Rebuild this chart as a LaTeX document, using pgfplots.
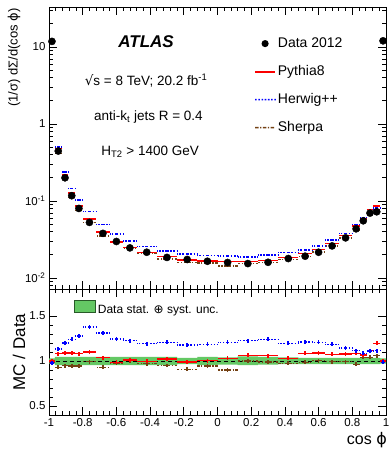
\documentclass[border=0pt]{standalone}
\usepackage{fontspec}
\setmainfont{Liberation Sans}
\newfontfamily\djv{DejaVu Sans}
\usepackage{pgfplots}
\usepackage{pgfplotstable}
\pgfplotsset{compat=1.18}
\usepgfplotslibrary{fillbetween}

\definecolor{bandgreen}{RGB}{100,200,100}
\definecolor{bandedge}{RGB}{40,90,40}
\definecolor{shbrown}{RGB}{115,65,20}
\definecolor{hwblue}{RGB}{0,0,255}
\definecolor{pyred}{RGB}{255,0,0}
\definecolor{legred}{RGB}{250,0,0}

\tikzset{
  pystyle/.style={draw=pyred, line width=1.5pt, solid},
  hwstyle/.style={draw=hwblue, line width=1.6pt, dash pattern=on 1.6pt off 1.6pt},
  shstyle/.style={draw=shbrown, line width=1.5pt, dash pattern=on 3.5pt off 1.5pt on 1.2pt off 1.5pt},
  legfill/.style={fill=#1, draw=none, draw opacity=0},
}

\pgfplotstableread{
x w d p h s
-0.9825 0.0175 11.8 11.8 11.56 11.68
-0.945 0.02 0.445 0.481 0.504 0.414
-0.905 0.02 0.200 0.218 0.239 0.1896
-0.865 0.02 0.117 0.1274 0.145 0.1106
-0.8225 0.0225 0.080 0.0865 0.1025 0.0756
-0.76 0.04 0.0527 0.058 0.0726 0.0523
-0.68 0.04 0.0380 0.0394 0.0497 0.0353
-0.60 0.04 0.0298 0.0294 0.0371 0.0292
-0.52 0.04 0.0246 0.0249 0.0302 0.0247
-0.42 0.06 0.0216 0.0215 0.0258 0.0210
-0.30 0.06 0.0185 0.0189 0.0223 0.0176
-0.18 0.06 0.0174 0.0172 0.0205 0.0158
-0.06 0.06 0.0165 0.0166 0.0196 0.0156
0.06 0.06 0.0159 0.0164 0.0192 0.0143
0.18 0.06 0.0154 0.0164 0.0189 0.0154
0.30 0.06 0.0160 0.0170 0.0198 0.0158
0.42 0.06 0.0179 0.0184 0.0214 0.0174
0.52 0.04 0.0192 0.0208 0.0233 0.0189
0.60 0.04 0.0216 0.0235 0.0261 0.0217
0.68 0.04 0.0261 0.0280 0.0309 0.0259
0.76 0.04 0.0332 0.0358 0.0380 0.0330
0.8225 0.0225 0.0435 0.0472 0.0485 0.0419
0.865 0.02 0.0553 0.0590 0.0600 0.0575
0.905 0.02 0.0696 0.0776 0.0773 0.0724
0.945 0.02 0.0724 0.0866 0.0807 0.0767
0.9825 0.0175 12.0 12.0 11.82 12.0
}\up

\pgfplotstableread{
x w p h s
-0.9825 0.0175 1.00 0.98 0.99
-0.945 0.02 1.081 1.133 0.93
-0.905 0.02 1.089 1.197 0.948
-0.865 0.02 1.089 1.241 0.945
-0.8225 0.0225 1.081 1.281 0.945
-0.76 0.04 1.10 1.378 0.993
-0.68 0.04 1.037 1.308 0.93
-0.60 0.04 0.985 1.244 0.98
-0.52 0.04 1.011 1.226 1.004
-0.42 0.06 0.996 1.193 0.97
-0.30 0.06 1.022 1.207 0.95
-0.18 0.06 0.989 1.178 0.907
-0.06 0.06 1.004 1.185 0.944
0.06 0.06 1.03 1.207 0.90
0.18 0.06 1.063 1.226 1.00
0.30 0.06 1.06 1.24 0.99
0.42 0.06 1.03 1.196 0.974
0.52 0.04 1.085 1.211 0.985
0.60 0.04 1.089 1.207 1.004
0.68 0.04 1.074 1.185 0.993
0.76 0.04 1.078 1.144 0.993
0.8225 0.0225 1.085 1.115 0.963
0.865 0.02 1.067 1.085 1.04
0.905 0.02 1.115 1.111 1.04
0.945 0.02 1.196 1.115 1.059
0.9825 0.0175 1.0 0.985 1.0
}\ratio

\pgfplotstableread{
x u l
-1 1.03 0.97
-0.965 1.045 0.955
-0.925 1.045 0.955
-0.885 1.045 0.955
-0.845 1.045 0.955
-0.80 1.045 0.955
-0.72 1.045 0.955
-0.64 1.045 0.955
-0.56 1.045 0.955
-0.48 1.045 0.955
-0.36 1.045 0.955
-0.24 1.035 0.965
-0.12 1.045 0.955
0 1.04 0.96
0.12 1.05 0.955
0.24 1.045 0.96
0.36 1.04 0.965
0.48 1.035 0.965
0.56 1.035 0.965
0.64 1.035 0.965
0.72 1.035 0.965
0.80 1.035 0.965
0.845 1.035 0.965
0.885 1.035 0.965
0.925 1.035 0.965
0.965 1.03 0.97
1.0 1.03 0.97
}\band

\pgfplotsset{
  common/.style={scale only axis, width=337pt, xmin=-1, xmax=1,
    xtick={-1,-0.8,-0.6,-0.4,-0.2,0,0.2,0.4,0.6,0.8,1}, minor x tick num=4,
    tick align=inside, major tick length=8pt, minor tick length=4pt,
    axis line style={line width=0.8pt},
    every tick/.style={black, line width=0.7pt},
    tick label style={font=\fontsize{11.5}{13}\selectfont},
  },
  hseg/.style={draw=none, mark=none, forget plot, error bars/.cd, x dir=both, x explicit, error mark=none, error bar style={#1}},
  vseg/.style={draw=none, mark=none, forget plot, error bars/.cd, y dir=both, y fixed=0.022, error mark=none, error bar style={#1}},
}

\begin{document}
\begin{tikzpicture}
\begin{axis}[common, at={(0,0)}, anchor=south west, height=282pt,
  ymode=log, ymin=0.0072, ymax=33,
  ytick={0.01,0.1,1,10},
  yticklabels={10\textsuperscript{-2},10\textsuperscript{-1},1,10},
  minor ytick={0.008,0.009,0.02,0.03,0.04,0.05,0.06,0.07,0.08,0.09,0.2,0.3,0.4,0.5,0.6,0.7,0.8,0.9,2,3,4,5,6,7,8,9,20,30},
  xticklabels={},
  ylabel={(1/σ) dΣ/d(cos {\djv ϕ})},
  ylabel style={at={(rel axis cs:-0.104,1.007)}, anchor=east, font=\fontsize{13}{15}\selectfont},
  legend style={draw=none, fill=none, at={(rel axis cs:0.611,0.901)}, anchor=north west, inner sep=0pt,
    font=\fontsize{14}{16}\selectfont, row sep=11pt, nodes={text height=10pt, text depth=3pt, inner sep=2pt}},
  legend cell align=left,
]
\addplot[shbrown, hseg={shstyle}] table[x=x, y=s, x error=w]{\up};
\addplot[hwblue, hseg={hwstyle}] table[x=x, y=h, x error=w]{\up};
\addplot[pyred, hseg={pystyle}] table[x=x, y=p, x error=w]{\up};
\addplot[only marks, mark=*, mark size=3.6pt, black, forget plot] table[x=x, y=d]{\up};

\addlegendimage{legend image code/.code={\fill[legfill=black] (10pt,0pt) circle (3.6pt);}}
\addlegendentry{Data 2012}
\addlegendimage{legend image code/.code={\fill[legfill=legred] (0pt,-0.9pt) rectangle (20pt,0.9pt);}}
\addlegendentry{Pythia8}
\addlegendimage{legend image code/.code={\fill[legfill=hwblue] (0pt,-0.8pt) rectangle (1.6pt,0.8pt) (3.2pt,-0.8pt) rectangle (4.8pt,0.8pt) (6.4pt,-0.8pt) rectangle (8pt,0.8pt) (9.6pt,-0.8pt) rectangle (11.2pt,0.8pt) (12.8pt,-0.8pt) rectangle (14.4pt,0.8pt) (16pt,-0.8pt) rectangle (17.6pt,0.8pt) (19.2pt,-0.8pt) rectangle (20.8pt,0.8pt);}}
\addlegendentry{Herwig++}
\addlegendimage{legend image code/.code={\fill[legfill=shbrown] (0pt,-0.75pt) rectangle (3.5pt,0.75pt) (5pt,-0.75pt) rectangle (6.2pt,0.75pt) (7.7pt,-0.75pt) rectangle (11.2pt,0.75pt) (12.7pt,-0.75pt) rectangle (13.9pt,0.75pt) (15.4pt,-0.75pt) rectangle (18.9pt,0.75pt);}}
\addlegendentry{Sherpa}

\node[font=\fontsize{17}{20}\selectfont\bfseries\itshape] at (rel axis cs:0.288,0.876) {ATLAS};
\node[font=\fontsize{13.5}{16}\selectfont] at (rel axis cs:0.288,0.738) {{\djv √}s = 8 TeV; 20.2 fb\textsuperscript{-1}};
\node[font=\fontsize{13.5}{16}\selectfont] at (rel axis cs:0.295,0.61) {anti-k\textsubscript{t} jets R = 0.4};
\node[font=\fontsize{13.5}{16}\selectfont] at (rel axis cs:0.30,0.486) {H\textsubscript{T2} > 1400 GeV};
\end{axis}

\begin{axis}[common, at={(0,0)}, anchor=north west, height=126pt,
  ymin=0.4, ymax=1.8, ytick={0.5,1,1.5}, yticklabels={0.5,1,1.5}, minor y tick num=4,
  xticklabels={-1,-0.8,-0.6,-0.4,-0.2,0,0.2,0.4,0.6,0.8,1},
  ylabel={MC / Data},
  ylabel style={at={(rel axis cs:-0.089,0.5)}, anchor=center, font=\fontsize{17}{20}\selectfont},
  xlabel={cos {\djv ϕ}},
  xlabel style={at={(rel axis cs:1,0)}, anchor=north east, inner sep=0pt, yshift=-17pt, xshift=1pt, font=\fontsize{16}{19}\selectfont},
  legend style={draw=none, fill=none, at={(rel axis cs:0.074,0.913)}, anchor=north west, inner sep=0pt,
    font=\fontsize{12}{14}\selectfont, nodes={text height=9pt, text depth=2.5pt, inner sep=2pt}},
]
\addplot[name path=bu, draw=none, const plot, forget plot] table[x=x, y=u]{\band};
\addplot[name path=bl, draw=none, const plot, forget plot] table[x=x, y=l]{\band};
\addplot[bandgreen, forget plot] fill between[of=bu and bl];
\addplot[black, line width=0.8pt, dash pattern=on 4pt off 3pt, forget plot] coordinates {(-1,1) (1,1)};

\addplot[shbrown, hseg={shstyle}] table[x=x, y=s, x error=w]{\ratio};
\addplot[shbrown, vseg={draw=shbrown, line width=1.6pt, solid}] table[x=x, y=s]{\ratio};
\addplot[pyred, hseg={pystyle}] table[x=x, y=p, x error=w]{\ratio};
\addplot[pyred, vseg={draw=pyred, line width=1.6pt, solid}] table[x=x, y=p]{\ratio};
\addplot[hwblue, hseg={hwstyle}] table[x=x, y=h, x error=w]{\ratio};
\addplot[hwblue, vseg={draw=hwblue, line width=1.6pt, solid}] table[x=x, y=h]{\ratio};

\addlegendimage{legend image code/.code={\draw[fill=bandgreen, draw=bandedge, line width=0.7pt] (0pt,-2pt) rectangle (21pt,10pt);}}
\addlegendentry{Data stat. {\djv ⊕} syst. unc.}
\end{axis}
\pgfresetboundingbox
\path (-49pt,-160pt) rectangle (340pt,289pt);
\end{tikzpicture}
\end{document}
